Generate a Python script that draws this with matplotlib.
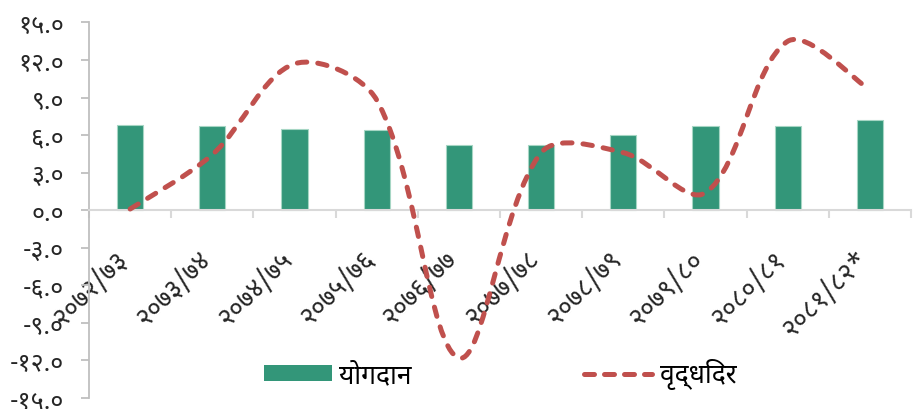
import matplotlib
matplotlib.use("Agg")
import numpy as np
import matplotlib.pyplot as plt
from matplotlib import font_manager
from matplotlib.path import Path
from matplotlib.patches import PathPatch, Patch
from matplotlib.lines import Line2D
from matplotlib.transforms import ScaledTranslation

# data
years = ["२०७२/७३", "२०७३/७४", "२०७४/७५", "२०७५/७६", "२०७६/७७",
         "२०७७/७८", "२०७८/७९", "२०७९/८०", "२०८०/८१", "२०८१/८२*"]
contribution = [6.8, 6.7, 6.5, 6.4, 5.2, 5.2, 6.0, 6.7, 6.75, 7.2]
growth = [0.1, 4.45, 11.7, 8.8, -11.8, 4.6, 4.6, 1.4, 13.5, 9.6]
y_ticks = [15, 12, 9, 6, 3, 0, -3, -6, -9, -12, -15]
y_tick_labels = ["१५.०", "१२.०", "९.०", "६.०", "३.०", "०.०",
                 "-३.०", "-६.०", "-९.०", "-१२.०", "-१५.०"]
legend_labels = ["योगदान", "वृद्धिदर"]

bar_color = "#339679"
line_color = "#C0504D"

# pick a font that has devanagari glyphs
names = set(f.name for f in font_manager.fontManager.ttflist)
deva = [n for n in ["Noto Sans Devanagari", "Mukta", "Hind", "Yantramanav"] if n in names]
plt.rcParams["font.family"] = deva[:1] + ["DejaVu Sans"]

fig = plt.figure(figsize=(9.16, 4.10), dpi=100)
ax = fig.add_axes([0.0972, 0.0268, 0.8974, 0.9159])

x = np.arange(len(years))
ax.bar(x, contribution, width=0.32, color=bar_color, edgecolor="#a6d6c4",
       linewidth=0.8, zorder=2)

ax.set_xlim(-0.5, len(years) - 0.5)
ax.set_ylim(-15, 15)

# smoothed line, bezier segments like a spreadsheet "smooth line"
pts = np.column_stack([x, growth]).astype(float)
fig.canvas.draw()
disp = ax.transData.transform(pts)
verts = [tuple(pts[0])]
codes = [Path.MOVETO]
n = len(pts)
def tangent(i):
    a = pts[max(i - 1, 0)]
    b = pts[min(i + 1, n - 1)]
    da = np.hypot(*(disp[i] - disp[max(i - 1, 0)]))
    db = np.hypot(*(disp[min(i + 1, n - 1)] - disp[i]))
    return b - a, da, db
for i in range(n - 1):
    t1, pa, pb = tangent(i)
    t2, qa, qb = tangent(i + 1)
    if i == 0:
        c1 = pts[i] + t1 / 6
    else:
        c1 = pts[i] + t1 * pb / (pa + pb) / 3
    if i + 1 == n - 1:
        c2 = pts[i + 1] - t2 / 6
    else:
        c2 = pts[i + 1] - t2 * qa / (qa + qb) / 3
    verts += [tuple(c1), tuple(c2), tuple(pts[i + 1])]
    codes += [Path.CURVE4, Path.CURVE4, Path.CURVE4]
curve = PathPatch(Path(verts, codes), fill=False, edgecolor=line_color,
                  linewidth=3.6, linestyle=(0, (1.9, 2.2)), capstyle="round",
                  zorder=3)
ax.add_patch(curve)

# axes look
for s in ["top", "right"]:
    ax.spines[s].set_visible(False)
ax.spines["left"].set_color("#BFBFBF")
ax.spines["left"].set_linewidth(1.3)
ax.spines["bottom"].set_position(("data", 0))
ax.spines["bottom"].set_color("#D9D9D9")
ax.spines["bottom"].set_linewidth(1.5)

ax.set_yticks(y_ticks)
ax.set_yticklabels(y_tick_labels, fontsize=18, color="#262626")
ax.tick_params(axis="y", direction="out", length=6, width=1.3, color="#BFBFBF", pad=12)

ax.set_xticks(np.arange(-0.5, len(years), 1.0))
ax.set_xticklabels([])
ax.tick_params(axis="x", which="major", direction="out", length=6, width=1.5, color="#D9D9D9")
ax.set_xticks(x, minor=True)
ax.set_xticklabels(years, minor=True, rotation=45, ha="right", va="top",
                   fontsize=19, color="#262626")
ax.tick_params(axis="x", which="minor", length=0, pad=25)
for lbl in ax.get_xticklabels(minor=True):
    lbl.set_transform(lbl.get_transform() + ScaledTranslation(3 / 72, 0, fig.dpi_scale_trans))

handles = [Patch(facecolor=bar_color, edgecolor="none"),
           Line2D([], [], color=line_color, linewidth=3.6, linestyle=(0, (2.0, 2.0)),
                  dash_capstyle="round")]
fig.legend(handles, legend_labels, loc="center", bbox_to_anchor=(500 / 916, 1 - 375 / 410),
           ncol=2, frameon=False, fontsize=19, handlelength=2.58, handleheight=0.53,
           handletextpad=0.27, columnspacing=6.55)

fig.savefig("out.png", dpi=100)
